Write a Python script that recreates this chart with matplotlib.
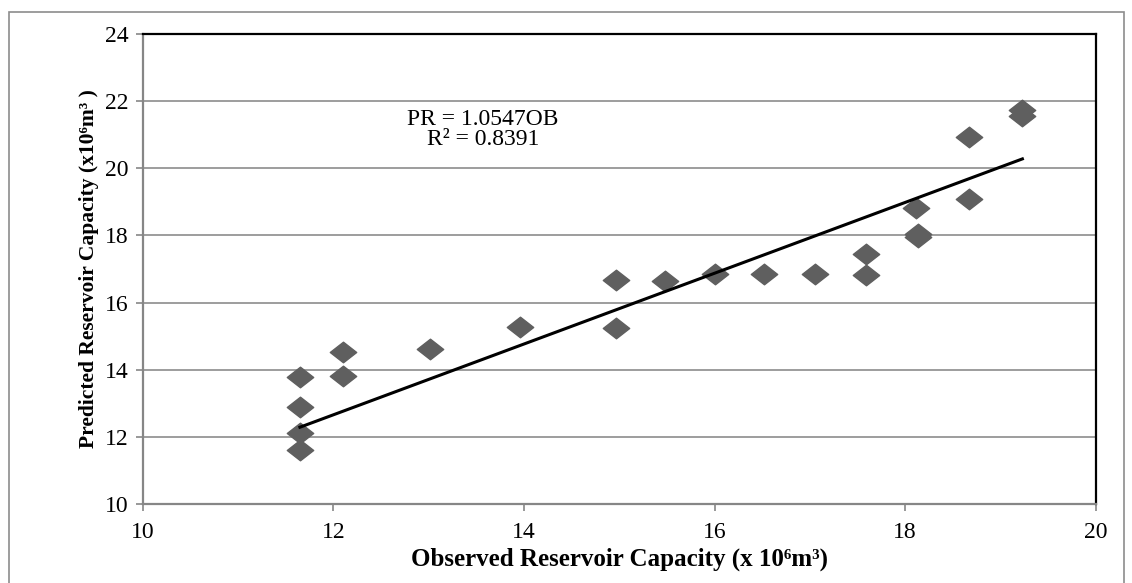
import numpy as np
import matplotlib
matplotlib.use("Agg")
import matplotlib.pyplot as plt
from matplotlib.path import Path
from matplotlib.patches import Rectangle

## Data
observed = [11.65, 11.65, 11.65, 11.65, 12.10, 12.10, 13.02, 13.96, 14.97, 14.97, 15.48,
            16.00, 16.52, 17.05, 17.59, 17.59, 18.11, 18.13, 18.13, 18.67, 18.67, 19.23, 19.23]
predicted = [13.77, 12.88, 12.12, 11.60, 14.52, 13.80, 14.62, 15.27, 16.67, 15.24, 16.64,
             16.86, 16.86, 16.86, 16.82, 17.46, 18.81, 18.03, 17.95, 20.93, 19.09, 21.75, 21.55]
slope = 1.0547
r_squared = 0.8391
x_ticks = [10, 12, 14, 16, 18, 20]
y_ticks = [10, 12, 14, 16, 18, 20, 22, 24]

plt.rcParams['font.family'] = ['Liberation Serif', 'DejaVu Serif']

fig = plt.figure(figsize=(11.32, 5.83), dpi=100)
ax = fig.add_axes([0.126, 0.1355, 0.842, 0.806])

# outer chart border (Excel chart area)
fig.patches.append(Rectangle((9 / 1132, -0.05), 1115 / 1132, 1 - 12 / 583 + 0.05,
                             transform=fig.transFigure, fill=False,
                             edgecolor='#8c8c8c', linewidth=1.2))

# flattened diamond marker
diamond = Path([(-1, 0), (0, 0.78), (1, 0), (0, -0.78), (-1, 0)],
               [Path.MOVETO, Path.LINETO, Path.LINETO, Path.LINETO, Path.CLOSEPOLY])

ax.plot(observed, predicted, linestyle='none', marker=diamond, markersize=19,
        color='#5f5f5f', markeredgecolor='#5f5f5f', zorder=3)

# linear trendline through origin
xs = np.array([min(observed), max(observed)])
ax.plot(xs, slope * xs, color='black', linewidth=2.2, zorder=4)

ax.text(13.57, 21.15, f"PR = {slope}OB\nR² = {r_squared}", ha='center', va='center',
        fontsize=17, linespacing=0.95)

ax.set_xlim(10, 20)
ax.set_ylim(10, 24)
ax.set_xticks(x_ticks)
ax.set_yticks(y_ticks)
ax.tick_params(labelsize=17, length=5, width=1.2, color='#868686')
ax.tick_params(axis='x', pad=8)
ax.tick_params(axis='y', pad=5)
ax.yaxis.grid(True, color='#8c8c8c', linewidth=1.2)
ax.set_axisbelow(True)

for side in ['left', 'bottom']:
    ax.spines[side].set_color('#868686')
    ax.spines[side].set_linewidth(1.6)
for side in ['top', 'right']:
    ax.spines[side].set_color('black')
    ax.spines[side].set_linewidth(1.6)

ax.set_xlabel("Observed Reservoir Capacity (x 10⁶m³)", fontsize=18, fontweight='bold', labelpad=3)
ax.set_ylabel("Predicted Reservoir Capacity (x10⁶m³ )", fontsize=15.5, fontweight='bold', labelpad=4)

fig.savefig("out.png", dpi=100)
